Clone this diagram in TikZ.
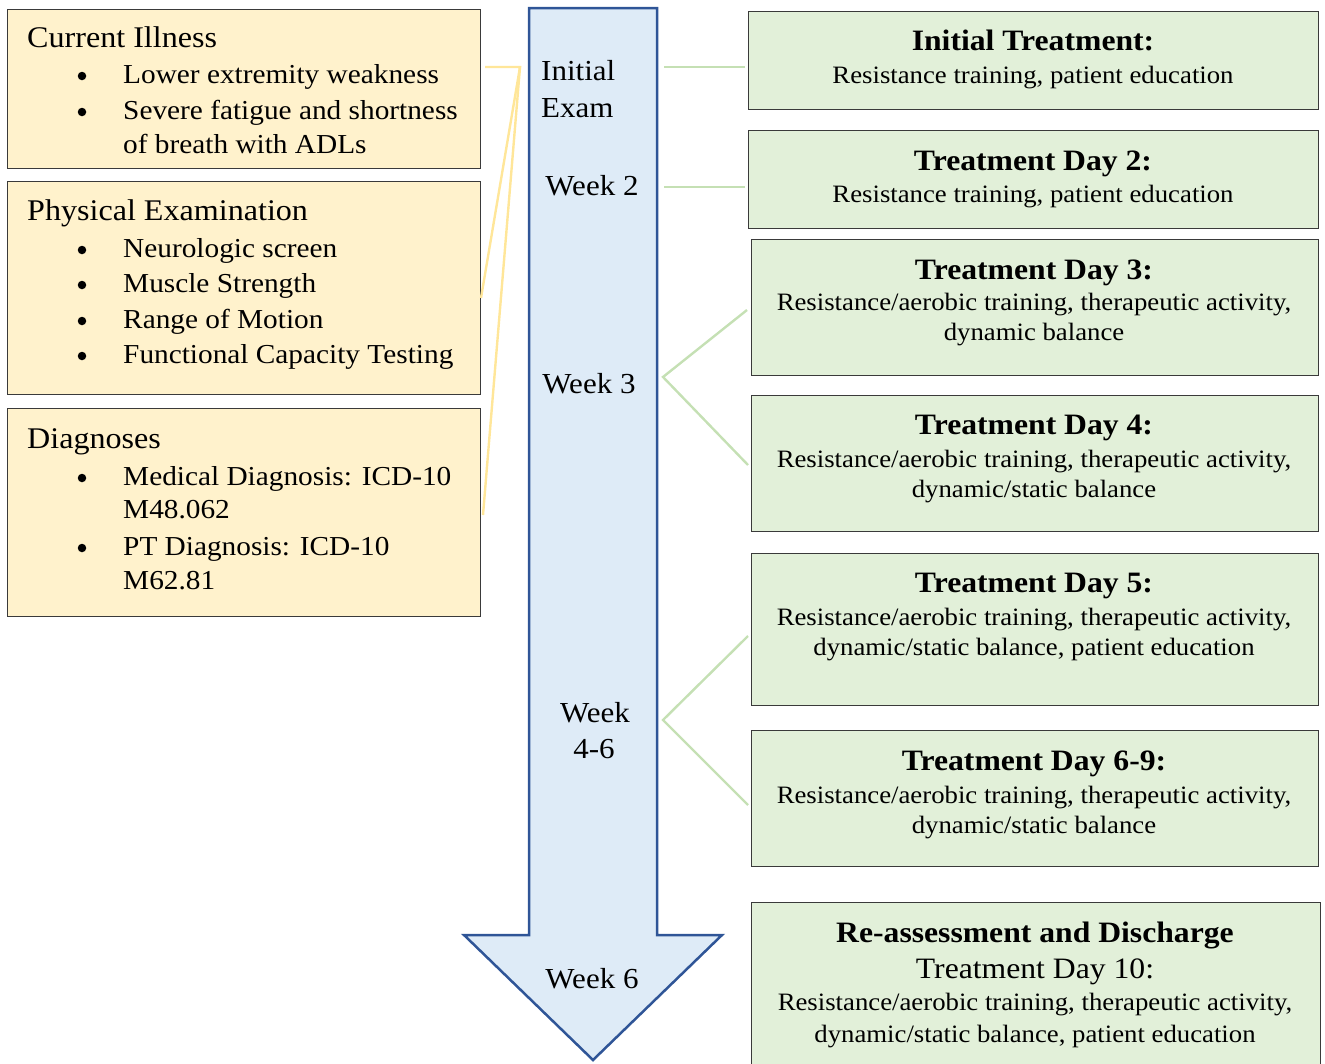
\documentclass[tikz,border=0pt]{standalone}
\usepackage{fontspec}
\setmainfont[FakeStretch=1.07]{Liberation Serif}
\definecolor{yfill}{HTML}{FFF2CC}
\definecolor{gfill}{HTML}{E2F0D9}
\definecolor{afill}{HTML}{DEEBF7}
\definecolor{aline}{HTML}{2F5597}
\definecolor{boxline}{HTML}{3A3A3A}
\definecolor{yline}{HTML}{FFE699}
\definecolor{gline}{HTML}{C5E0B4}
\begin{document}
\begin{tikzpicture}[x=1pt,y=-1pt,
  ybox/.style={draw=boxline, fill=yfill, line width=1.3pt, rectangle, inner sep=0pt, anchor=north west},
  gbox/.style={draw=boxline, fill=gfill, line width=1.3pt, rectangle, inner sep=0pt, anchor=north west},
  hd/.style={font=\fontsize{30}{36}\selectfont, inner sep=0pt, anchor=base west},
  bul/.style={font=\fontsize{27.4}{34}\selectfont, inner sep=0pt, anchor=base west},
  bdot/.style={circle, fill=black, inner sep=0pt, minimum size=8.5pt},
  gt/.style={font=\bfseries\fontsize{29.6}{34}\selectfont, inner sep=0pt, anchor=base},
  gsub/.style={font=\fontsize{29.6}{34}\selectfont, inner sep=0pt, anchor=base},
  gb/.style={font=\fontsize{25}{31}\selectfont, inner sep=0pt, anchor=base},
  wk/.style={font=\fontsize{29}{36}\selectfont, inner sep=0pt, anchor=base},
  yconn/.style={draw=yline, line width=2.4pt},
  gconn/.style={draw=gline, line width=2.4pt}]
\useasboundingbox (0,0) rectangle (1325,1063);
\clip (0,0) rectangle (1325,1063);

% ---------- yellow boxes ----------
\node[ybox, minimum width=473pt, minimum height=159pt] (ci) at (7,9) {};
\node[hd] (ciT) at (27,47) {Current Illness};
\node[bdot] (ciD1) at (82,76) {};
\node[bul] (ci1) at (123,83) {Lower extremity weakness};
\node[bdot] (ciD2) at (82,112) {};
\node[bul] (ci2) at (123,119) {Severe fatigue and shortness};
\node[bul] (ci3) at (123,153) {of breath with ADLs};

\node[ybox, minimum width=473pt, minimum height=213pt] (pe) at (7,181) {};
\node[hd] (peT) at (27,220) {Physical Examination};
\node[bdot] (peD1) at (82,250) {};
\node[bul] (pe1) at (123,257) {Neurologic screen};
\node[bdot] (peD2) at (82,285) {};
\node[bul] (pe2) at (123,292) {Muscle Strength};
\node[bdot] (peD3) at (82,321) {};
\node[bul] (pe3) at (123,328) {Range of Motion};
\node[bdot] (peD4) at (82,356) {};
\node[bul] (pe4) at (123,363) {Functional Capacity Testing};

\node[ybox, minimum width=473pt, minimum height=208pt] (dg) at (7,408) {};
\node[hd] (dgT) at (27,448) {Diagnoses};
\node[bdot] (dgD1) at (82,478) {};
\node[bul] (dg1) at (123,485) {Medical Diagnosis: ICD-10};
\node[bul] (dg2) at (123,518) {M48.062};
\node[bdot] (dgD2) at (82,548) {};
\node[bul] (dg3) at (123,555) {PT Diagnosis: ICD-10};
\node[bul] (dg4) at (123,589) {M62.81};

% ---------- timeline arrow ----------
\draw[fill=afill, draw=aline, line width=2.5pt, line join=miter]
  (529,8) -- (657,8) -- (657,935) -- (722,935) -- (593,1060) -- (464,935) -- (529,935) -- cycle;
\node[wk, anchor=base west] (wInit) at (541,80) {Initial};
\node[wk, anchor=base west] (wExam) at (541,117) {Exam};
\node[wk] (w2) at (592,195) {Week 2};
\node[wk] (w3) at (589,393) {Week 3};
\node[wk] (w46a) at (595,722) {Week};
\node[wk] (w46b) at (594,758) {4-6};
\node[wk] (w6) at (592,988) {Week 6};

% ---------- green boxes ----------
\node[gbox, minimum width=570pt, minimum height=98pt] (g1) at (748,11) {};
\node[gt] (g1T) at (1033,50) {Initial Treatment:};
\node[gb] (g1B) at (1033,83) {Resistance training, patient education};

\node[gbox, minimum width=570pt, minimum height=98pt] (g2) at (748,130) {};
\node[gt] (g2T) at (1033,170) {Treatment Day 2:};
\node[gb] (g2B) at (1033,202) {Resistance training, patient education};

\node[gbox, minimum width=567pt, minimum height=136pt] (g3) at (751,239) {};
\node[gt] (g3T) at (1034,279) {Treatment Day 3:};
\node[gb] (g3B1) at (1034,310) {Resistance/aerobic training, therapeutic activity,};
\node[gb] (g3B2) at (1034,340) {dynamic balance};

\node[gbox, minimum width=567pt, minimum height=136pt] (g4) at (751,395) {};
\node[gt] (g4T) at (1034,434) {Treatment Day 4:};
\node[gb] (g4B1) at (1034,467) {Resistance/aerobic training, therapeutic activity,};
\node[gb] (g4B2) at (1034,497) {dynamic/static balance};

\node[gbox, minimum width=567pt, minimum height=152pt] (g5) at (751,553) {};
\node[gt] (g5T) at (1034,592) {Treatment Day 5:};
\node[gb] (g5B1) at (1034,625) {Resistance/aerobic training, therapeutic activity,};
\node[gb] (g5B2) at (1034,655) {dynamic/static balance, patient education};

\node[gbox, minimum width=567pt, minimum height=136pt] (g6) at (751,730) {};
\node[gt] (g6T) at (1034,770) {Treatment Day 6-9:};
\node[gb] (g6B1) at (1034,803) {Resistance/aerobic training, therapeutic activity,};
\node[gb] (g6B2) at (1034,833) {dynamic/static balance};

\node[gbox, minimum width=569pt, minimum height=180pt] (g7) at (751,902) {};
\node[gt] (g7T) at (1035,942) {Re-assessment and Discharge};
\node[gsub] (g7S) at (1035,978) {Treatment Day 10:};
\node[gb] (g7B1) at (1035,1010) {Resistance/aerobic training, therapeutic activity,};
\node[gb] (g7B2) at (1035,1042) {dynamic/static balance, patient education};

% ---------- connectors ----------
\coordinate (yS) at (485,67);
\coordinate (yV) at (520,67);
\coordinate (yE2) at (481,298);
\coordinate (yE3) at (483,515);
\draw[yconn] (yS) -- (yV) -- (yE2);
\draw[yconn] (yV) -- (yE3);

\coordinate (c1a) at (664,67);   \coordinate (c1b) at (745,67);
\coordinate (c2a) at (664,187);  \coordinate (c2b) at (745,187);
\draw[gconn] (c1a) -- (c1b);
\draw[gconn] (c2a) -- (c2b);

\coordinate (v3) at (663,377);
\coordinate (v3u) at (747,310);
\coordinate (v3d) at (748,465);
\draw[gconn] (v3u) -- (v3) -- (v3d);

\coordinate (v46) at (663,720);
\coordinate (v46u) at (748,636);
\coordinate (v46d) at (748,805);
\draw[gconn] (v46u) -- (v46) -- (v46d);
\end{tikzpicture}
\end{document}
